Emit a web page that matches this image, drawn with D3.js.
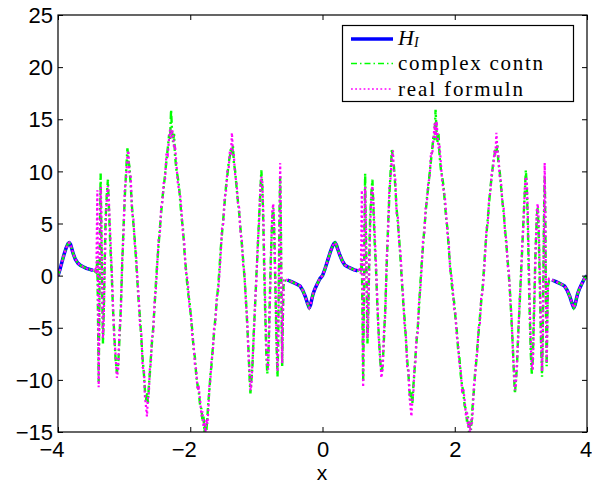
<!DOCTYPE html>
<html>
<head>
<meta charset="utf-8">
<script src="https://cdn.jsdelivr.net/npm/d3@7"></script>
<style>
  body { margin: 0; background: #fff; }
  svg { display: block; }
  .axis text { font-family: "Liberation Sans", Arial, sans-serif; font-size: 22px; fill: #000; }
  .axis line { stroke: #000; }
  .legend text { font-family: "Liberation Serif", "Times New Roman", serif; font-size: 21px; }
</style>
</head>
<body>
<svg id="chart" width="592" height="484"></svg>
<script>
const xTicks = [-4, -2, 0, 2, 4];
const yTicks = [-15, -10, -5, 0, 5, 10, 15, 20, 25];
const seriesNames = ["H", "complex contn", "real formuln"];
const seriesColors = ["rgb(0,0,255)", "rgb(0,255,0)", "rgb(255,0,255)"];

// H_I only shows up near the period points
const hiLeft = [[-4, 0], [-3.97, 0.6], [-3.94, 1.3], [-3.91, 2.0], [-3.88, 2.6], [-3.85, 3.05], [-3.83, 3.16],
  [-3.81, 3.0], [-3.79, 2.55], [-3.77, 2.1], [-3.74, 1.6], [-3.70, 1.2], [-3.66, 0.98], [-3.62, 0.85],
  [-3.57, 0.7], [-3.52, 0.6], [-3.47, 0.5]];
const hiMid = [[-0.53, -0.42], [-0.48, -0.55], [-0.43, -0.7], [-0.38, -0.85], [-0.34, -1.0], [-0.30, -1.4],
  [-0.26, -2.0], [-0.23, -2.6], [-0.20, -3.08], [-0.18, -2.8], [-0.16, -2.2], [-0.14, -1.7], [-0.11, -1.2],
  [-0.08, -0.8], [-0.04, -0.3], [0, 0], [0.03, 0.5], [0.06, 1.1], [0.09, 1.7], [0.12, 2.3], [0.15, 2.8],
  [0.17, 3.05], [0.19, 3.16], [0.21, 2.95], [0.23, 2.55], [0.26, 2.0], [0.30, 1.4], [0.34, 1.0],
  [0.38, 0.85], [0.43, 0.7], [0.48, 0.55], [0.53, 0.47]];
const hiRight = [[3.47, -0.42], [3.52, -0.55], [3.57, -0.7], [3.62, -0.85], [3.66, -1.0], [3.70, -1.4],
  [3.74, -2.0], [3.77, -2.6], [3.80, -3.08], [3.82, -2.8], [3.84, -2.2], [3.86, -1.7], [3.89, -1.2],
  [3.92, -0.8], [3.96, -0.3], [4, 0]];

// [x, complex contn, real formuln]
const noisyLeft = [
  [-3.46, 0.5, 0.5], [-3.44, 0.4, 0.6], [-3.42, 0.3, 0.2], [-3.405, 1.5, 8.2], [-3.395, -4, -1],
  [-3.385, -10.2, -10.7], [-3.375, -3, -4], [-3.365, 5, 3], [-3.355, 9.8, 8.5], [-3.345, 4, 6],
  [-3.33, -2, -1], [-3.32, -6.5, -6], [-3.31, -4, -5], [-3.295, 1, 0], [-3.28, 5.5, 4.5],
  [-3.26, 8, 7.8], [-3.245, 9.2, 8.6], [-3.23, 6.5, 7.2], [-3.21, 3, 4], [-3.19, 0.5, 1],
  [-3.17, -3, -2.5], [-3.15, -5.5, -6], [-3.13, -8, -7.5], [-3.11, -9.3, -9.8], [-3.09, -8.6, -9],
  [-3.07, -6, -5.3], [-3.05, -3, -3.8], [-3.03, 0.8, 1.5], [-3.01, 4.5, 3.8], [-2.99, 7.5, 8.2],
  [-2.97, 10, 9.4], [-2.95, 12.2, 11.5], [-2.935, 11, 12], [-2.92, 10.5, 9.8], [-2.90, 8.6, 9.5],
  [-2.88, 6.5, 6], [-2.86, 5, 5.6], [-2.84, 3.5, 3], [-2.82, 1.5, 2.2], [-2.80, -0.5, -0.2],
  [-2.78, -2.5, -2], [-2.76, -4, -4.8], [-2.74, -6, -5.5], [-2.72, -8, -8.8], [-2.70, -9.5, -9],
  [-2.685, -11, -11.6], [-2.67, -12, -12.5], [-2.655, -11.2, -13.5], [-2.64, -12.2, -11.8],
  [-2.625, -10.5, -11.2], [-2.61, -9.3, -8.8], [-2.595, -7.8, -8.4], [-2.58, -6.5, -6],
  [-2.56, -5, -5.5], [-2.54, -3, -2.5], [-2.52, -0.8, -1.3], [-2.50, 1.2, 0.8], [-2.48, 2.8, 3.4],
  [-2.46, 4.5, 4], [-2.44, 6, 6.6], [-2.42, 7.5, 7.1], [-2.40, 8.5, 9], [-2.38, 9.8, 9.3],
  [-2.36, 11, 11.8], [-2.34, 12.2, 11.6], [-2.32, 13.5, 13.2], [-2.305, 13, 14], [-2.29, 15.9, 13.2],
  [-2.275, 13.8, 14], [-2.26, 12.8, 13.5], [-2.245, 13.6, 12.2], [-2.23, 11.5, 12.5], [-2.21, 10.2, 10.8],
  [-2.19, 9.5, 9], [-2.17, 8.6, 8.2], [-2.15, 7, 7.6], [-2.13, 5.5, 6], [-2.11, 4.5, 4],
  [-2.09, 2.5, 3.2], [-2.07, 1, 0.5], [-2.05, -0.5, 0], [-2.03, -1.8, -1.2], [-2.01, -2.5, -3.2],
  [-1.99, -4, -3.6], [-1.97, -5.2, -5.8], [-1.95, -7, -6.5], [-1.93, -7.8, -8.5], [-1.91, -9.5, -9],
  [-1.89, -10.5, -11], [-1.87, -11.2, -10.8], [-1.85, -12.5, -12], [-1.83, -12.8, -13.5],
  [-1.815, -14, -13], [-1.80, -13.5, -14.5], [-1.785, -15, -14], [-1.77, -14.2, -15],
  [-1.755, -14.8, -13.8], [-1.74, -13.5, -14.2], [-1.725, -12, -12.8], [-1.71, -11, -10.5],
  [-1.695, -9.5, -10], [-1.68, -8.7, -8.2], [-1.66, -7, -7.5], [-1.64, -5.5, -5], [-1.62, -4, -4.6],
  [-1.60, -2.5, -2], [-1.58, -1.2, -1.7], [-1.56, 0.5, 0], [-1.54, 2.5, 2], [-1.52, 4, 4.5],
  [-1.50, 5.5, 5], [-1.48, 7, 7.5], [-1.46, 8.5, 8], [-1.44, 9.5, 10], [-1.42, 10.8, 10.2],
  [-1.40, 11.5, 12], [-1.385, 12.2, 11.5], [-1.37, 11.8, 13.7], [-1.355, 12.5, 12], [-1.34, 10.8, 11.5],
  [-1.32, 10, 9.5], [-1.30, 8.5, 9], [-1.28, 7.2, 7], [-1.26, 6, 6.5], [-1.24, 4.5, 4],
  [-1.22, 3, 3.5], [-1.20, 1.5, 1], [-1.18, -0.2, 0.3], [-1.16, -2, -2.5], [-1.14, -4.5, -4],
  [-1.12, -7, -7.5], [-1.105, -9.5, -9], [-1.09, -11.3, -11], [-1.075, -10, -10.5], [-1.06, -8.8, -8.4],
  [-1.04, -5.5, -6], [-1.02, -3, -2.5], [-1.00, 0, -0.5], [-0.98, 2.5, 3], [-0.96, 5.5, 5],
  [-0.94, 8, 8.5], [-0.925, 10.1, 9.5], [-0.91, 8.5, 9], [-0.895, 5, 6], [-0.88, 0, 1.5],
  [-0.865, -4, -3], [-0.85, -7.5, -6.5], [-0.835, -9.4, -8.8], [-0.82, -8, -9], [-0.80, -3, -4],
  [-0.78, 2, 1.5], [-0.76, 5.5, 6.2], [-0.745, 6.5, 6.9], [-0.73, 4, 5], [-0.71, -2, -1],
  [-0.695, -6.5, -6], [-0.68, -9.7, -9.2], [-0.67, -6, -7], [-0.66, 0, -1], [-0.65, 6, 5],
  [-0.64, 9.5, 10.8], [-0.63, 5, 6], [-0.62, -3, -2], [-0.61, -8.7, -8.4], [-0.60, -4, -5],
  [-0.59, -1, -0.5], [-0.575, -0.5, -0.3]
];
const noisyRight = [
  [0.54, 0.5, 0.5], [0.56, 0.4, 0.6], [0.58, 0.3, 0.2], [0.595, 1.5, 8.2], [0.605, -4, -1],
  [0.615, -10.2, -10.7], [0.625, -3, -4], [0.635, 5, 3], [0.645, 9.8, 8.5], [0.655, 4, 6],
  [0.67, -2, -1], [0.68, -6.5, -6], [0.69, -4, -5], [0.705, 1, 0], [0.72, 5.5, 4.5],
  [0.74, 8, 7.8], [0.755, 9.2, 8.6], [0.77, 6.5, 7.2], [0.79, 3, 4], [0.81, 0.5, 1],
  [0.83, -3, -2.5], [0.85, -5.5, -6], [0.87, -8, -7.5], [0.89, -9.3, -9.8], [0.91, -8.6, -9],
  [0.93, -6, -5.3], [0.95, -3, -3.8], [0.97, 0.8, 1.5], [0.99, 4.5, 3.8], [1.01, 7.5, 8.2],
  [1.03, 10, 9.4], [1.05, 12.2, 11.5], [1.065, 11, 12], [1.08, 10.5, 9.8], [1.10, 8.6, 9.5],
  [1.12, 6.5, 6], [1.14, 5, 5.6], [1.16, 3.5, 3], [1.18, 1.5, 2.2], [1.20, -0.5, -0.2],
  [1.22, -2.5, -2], [1.24, -4, -4.8], [1.26, -6, -5.5], [1.28, -8, -8.8], [1.30, -9.5, -9],
  [1.315, -11, -11.6], [1.33, -12, -12.5], [1.345, -11.2, -13.5], [1.36, -12.2, -11.8],
  [1.375, -10.5, -11.2], [1.39, -9.3, -8.8], [1.405, -7.8, -8.4], [1.42, -6.5, -6],
  [1.44, -5, -5.5], [1.46, -3, -2.5], [1.48, -0.8, -1.3], [1.50, 1.2, 0.8], [1.52, 2.8, 3.4],
  [1.54, 4.5, 4], [1.56, 6, 6.6], [1.58, 7.5, 7.1], [1.60, 8.5, 9], [1.62, 9.8, 9.3],
  [1.64, 11, 11.8], [1.66, 12.2, 11.6], [1.68, 13.5, 13.2], [1.695, 13, 14.6], [1.71, 15.9, 13.2],
  [1.725, 13.8, 14.8], [1.74, 12.8, 13.5], [1.755, 13.6, 12.2], [1.77, 11.5, 12.5], [1.79, 10.2, 10.8],
  [1.81, 9.5, 9], [1.83, 8.6, 8.2], [1.85, 7, 7.6], [1.87, 5.5, 6], [1.89, 4.5, 4],
  [1.91, 2.5, 3.2], [1.93, 1, 0.5], [1.95, -0.5, 0], [1.97, -1.8, -1.2], [1.99, -2.5, -3.2],
  [2.01, -4, -3.6], [2.03, -5.2, -5.8], [2.05, -7, -6.5], [2.07, -7.8, -8.5], [2.09, -9.5, -9],
  [2.11, -10.5, -11], [2.13, -11.2, -10.8], [2.15, -12.5, -12], [2.17, -12.8, -13.5],
  [2.185, -14, -13], [2.20, -13.5, -14.5], [2.215, -15, -14], [2.23, -14.2, -15.3],
  [2.245, -14.8, -13.8], [2.26, -13.5, -14.2], [2.275, -12, -12.8], [2.29, -11, -10.5],
  [2.305, -9.5, -10], [2.32, -8.7, -8.2], [2.34, -7, -7.5], [2.36, -5.5, -5], [2.38, -4, -4.6],
  [2.40, -2.5, -2], [2.42, -1.2, -1.7], [2.44, 0.5, 0], [2.46, 2.5, 2], [2.48, 4, 4.5],
  [2.50, 5.5, 5], [2.52, 7, 7.5], [2.54, 8.5, 8], [2.56, 9.5, 10], [2.58, 10.8, 10.2],
  [2.60, 11.5, 12], [2.615, 12.2, 11.5], [2.63, 11.8, 13.7], [2.645, 12.5, 12], [2.66, 10.8, 11.5],
  [2.68, 10, 9.5], [2.70, 8.5, 9], [2.72, 7.2, 7], [2.74, 6, 6.5], [2.76, 4.5, 4],
  [2.78, 3, 3.5], [2.80, 1.5, 1], [2.82, -0.2, 0.3], [2.84, -2, -2.5], [2.86, -4.5, -4],
  [2.88, -7, -7.5], [2.895, -9.5, -9], [2.91, -11.3, -11], [2.925, -10, -10.5], [2.94, -8.8, -8.4],
  [2.96, -5.5, -6], [2.98, -3, -2.5], [3.00, 0, -0.5], [3.02, 2.5, 3], [3.04, 5.5, 5],
  [3.06, 8, 8.5], [3.075, 10.1, 9.5], [3.09, 8.5, 9], [3.105, 5, 6], [3.12, 0, 1.5],
  [3.135, -4, -3], [3.15, -7.5, -6.5], [3.165, -9.4, -8.8], [3.18, -8, -9], [3.20, -3, -4],
  [3.22, 2, 1.5], [3.24, 5.5, 6.2], [3.255, 6.5, 6.9], [3.27, 4, 5], [3.29, -2, -1],
  [3.305, -6.5, -6], [3.32, -9.7, -9.2], [3.33, -6, -7], [3.34, 0, -1], [3.35, 6, 5],
  [3.36, 9.5, 10.8], [3.37, 5, 6], [3.38, -3, -2], [3.39, -8.7, -8.4], [3.40, -4, -5],
  [3.41, -1, -0.5], [3.425, -0.5, -0.3]
];

const width = 592, height = 484;
const plot = {left: 58, right: 587, top: 15, bottom: 432};

const x = d3.scaleLinear().domain([-4, 4]).range([plot.left, plot.right]);
const y = d3.scaleLinear().domain([-15, 25]).range([plot.bottom, plot.top]);

const svg = d3.select("#chart");

svg.append("defs").append("clipPath").attr("id", "clip")
  .append("rect")
  .attr("x", plot.left).attr("y", plot.top)
  .attr("width", plot.right - plot.left).attr("height", plot.bottom - plot.top);

// pick one column out of the noisy tables
function column(rows, k) {
  return rows.map(r => [r[0], r[k]]);
}

const hiSeries = [hiLeft, hiMid, hiRight];
const complexSeries = [].concat(hiLeft, column(noisyLeft, 1), hiMid, column(noisyRight, 1), hiRight);
const realSeries = [].concat(hiLeft, column(noisyLeft, 2), hiMid, column(noisyRight, 2), hiRight);

const line = d3.line().x(d => x(d[0])).y(d => y(d[1]));

const g = svg.append("g").attr("clip-path", "url(#clip)");

g.selectAll("path.hi")
  .data(hiSeries)
  .join("path")
  .attr("class", "hi")
  .attr("d", line)
  .attr("fill", "none")
  .attr("stroke", seriesColors[0])
  .attr("stroke-width", 3.5)
  .attr("stroke-linejoin", "round");

g.append("path")
  .attr("d", line(complexSeries))
  .attr("fill", "none")
  .attr("stroke", seriesColors[1])
  .attr("stroke-width", 2.4)
  .attr("stroke-dasharray", "7,3,2,3");

g.append("path")
  .attr("d", line(realSeries))
  .attr("fill", "none")
  .attr("stroke", seriesColors[2])
  .attr("stroke-width", 2.2)
  .attr("stroke-dasharray", "2.2,2.6");

// axes, ticks pointing inward on all four sides
const bottomAxis = d3.axisBottom(x).tickValues(xTicks).tickSize(-5).tickPadding(9);
const topAxis = d3.axisTop(x).tickValues(xTicks).tickSize(-5).tickFormat("");
const leftAxis = d3.axisLeft(y).tickValues(yTicks).tickSize(-5).tickPadding(5);
const rightAxis = d3.axisRight(y).tickValues(yTicks).tickSize(-5).tickFormat("");

const gb = svg.append("g").attr("class", "axis").attr("transform", `translate(0,${plot.bottom})`).call(bottomAxis);
svg.append("g").attr("class", "axis").attr("transform", `translate(0,${plot.top})`).call(topAxis);
const gl = svg.append("g").attr("class", "axis").attr("transform", `translate(${plot.left},0)`).call(leftAxis);
svg.append("g").attr("class", "axis").attr("transform", `translate(${plot.right},0)`).call(rightAxis);
svg.selectAll(".axis .domain").remove();
svg.selectAll(".axis text").attr("font-size", null).attr("font-family", null);

// minus sign hangs to the left of the centred digits; last label hugs the edge
gb.selectAll(".tick text").attr("dx", d => d < 0 ? -6.5 : (d === 4 ? -1.5 : 0));
gl.selectAll(".tick text").attr("dy", "0.35em");

svg.append("rect")
  .attr("x", plot.left).attr("y", plot.top)
  .attr("width", plot.right - plot.left).attr("height", plot.bottom - plot.top)
  .attr("fill", "none").attr("stroke", "#000").attr("stroke-width", 1.2);

svg.append("text")
  .attr("x", 322).attr("y", 480)
  .attr("text-anchor", "middle")
  .style("font-family", "'Liberation Sans', Arial, sans-serif")
  .style("font-size", "21px")
  .text("x");

// legend
const legend = svg.append("g").attr("class", "legend");
legend.append("rect")
  .attr("x", 342.5).attr("y", 25.5).attr("width", 231).attr("height", 76)
  .attr("fill", "#fff").attr("stroke", "#000").attr("stroke-width", 1.2);

const rowY = [39, 63.5, 89];
const dashes = [null, "6,3,1.5,3", "1.8,2.4"];
const widths = [3.5, 1.5, 1.5];
const textLen = [null, 145, 125];

seriesNames.forEach((name, i) => {
  legend.append("line")
    .attr("x1", 351).attr("x2", 393)
    .attr("y1", rowY[i]).attr("y2", rowY[i])
    .attr("stroke", seriesColors[i])
    .attr("stroke-width", widths[i])
    .attr("stroke-dasharray", dashes[i]);
  const t = legend.append("text")
    .attr("x", 398).attr("y", rowY[i] + 6.5);
  if (i === 0) {
    t.attr("y", 45).style("font-style", "italic").style("font-size", "22px").text(name);
    t.append("tspan").attr("dy", 2).style("font-size", "14px").text("I");
  } else {
    t.attr("textLength", textLen[i]).attr("lengthAdjust", "spacing").text(name);
  }
});
</script>
</body>
</html>
